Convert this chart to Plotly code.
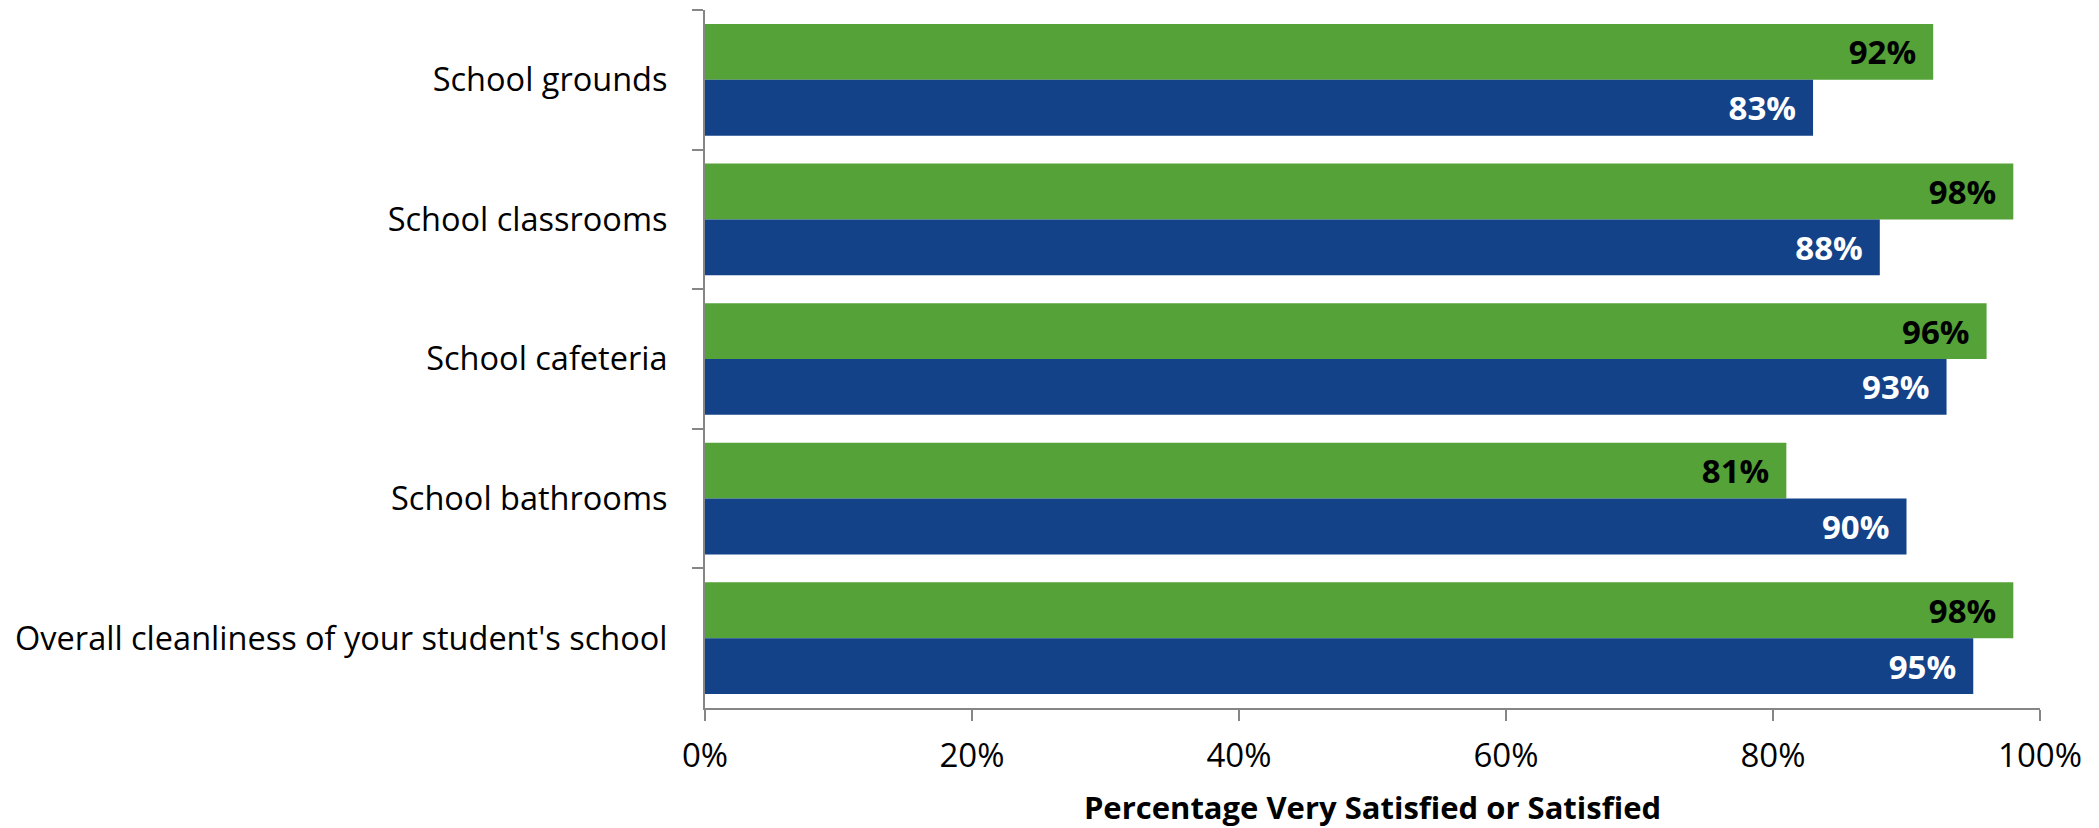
import plotly.graph_objects as go

categories = [
    "School grounds",
    "School classrooms",
    "School cafeteria",
    "School bathrooms",
    "Overall cleanliness of your student's school",
]
green_values = [92, 98, 96, 81, 98]
blue_values = [83, 88, 93, 90, 95]
x_ticks = [0, 20, 40, 60, 80, 100]
x_tick_labels = ["0%", "20%", "40%", "60%", "80%", "100%"]
x_title = "Percentage Very Satisfied or Satisfied"

FONT = "Open Sans"
GREEN = "#55A238"
BLUE = "#134289"
AXIS = "#868686"
PAD = "\u00a0\u2009"

fig = go.Figure()
fig.add_trace(go.Bar(
    y=categories, x=green_values, orientation="h", name="Series 1",
    marker=dict(color=GREEN, line=dict(width=0)),
    text=[f"{v}%{PAD}" for v in green_values], textposition="inside",
    insidetextanchor="end", textangle=0,
    textfont=dict(family=FONT, size=33, color="black", weight="bold"),
))
fig.add_trace(go.Bar(
    y=categories, x=blue_values, orientation="h", name="Series 2",
    marker=dict(color=BLUE, line=dict(width=0)),
    text=[f"{v}%{PAD}" for v in blue_values], textposition="inside",
    insidetextanchor="end", textangle=0,
    textfont=dict(family=FONT, size=33, color="white", weight="bold"),
))

# the page body adds an 8px margin, so the figure is 8px smaller and shifted
fig.update_layout(
    width=2091, height=820,
    margin=dict(l=697, r=59, t=2, b=120, autoexpand=False),
    paper_bgcolor="white", plot_bgcolor="white",
    barmode="group", bargap=0.2, bargroupgap=0,
    showlegend=False,
    font=dict(family=FONT, size=32.5, color="black"),
    uniformtext=dict(mode=False),
)
fig.update_xaxes(
    range=[0, 100], tickvals=x_ticks, ticktext=x_tick_labels,
    showgrid=False, zeroline=False, automargin=False,
    showline=True, linecolor=AXIS, linewidth=2,
    ticks="outside", ticklen=11, tickwidth=2, tickcolor=AXIS,
    ticklabelstandoff=6,
    tickfont=dict(family=FONT, size=33, color="black"),
    title=dict(text=x_title, font=dict(family=FONT, size=31, color="black", weight="bold"), standoff=22),
)
fig.update_yaxes(
    type="category", categoryorder="array", categoryarray=categories,
    autorange="reversed", automargin=False,
    showgrid=False, zeroline=False,
    showline=True, linecolor=AXIS, linewidth=2,
    ticks="outside", ticklen=11, tickwidth=2, tickcolor=AXIS,
    tickson="boundaries", ticklabelstandoff=29,
    tickfont=dict(family=FONT, size=32.5, color="black"),
)

fig.write_html("out.html")
